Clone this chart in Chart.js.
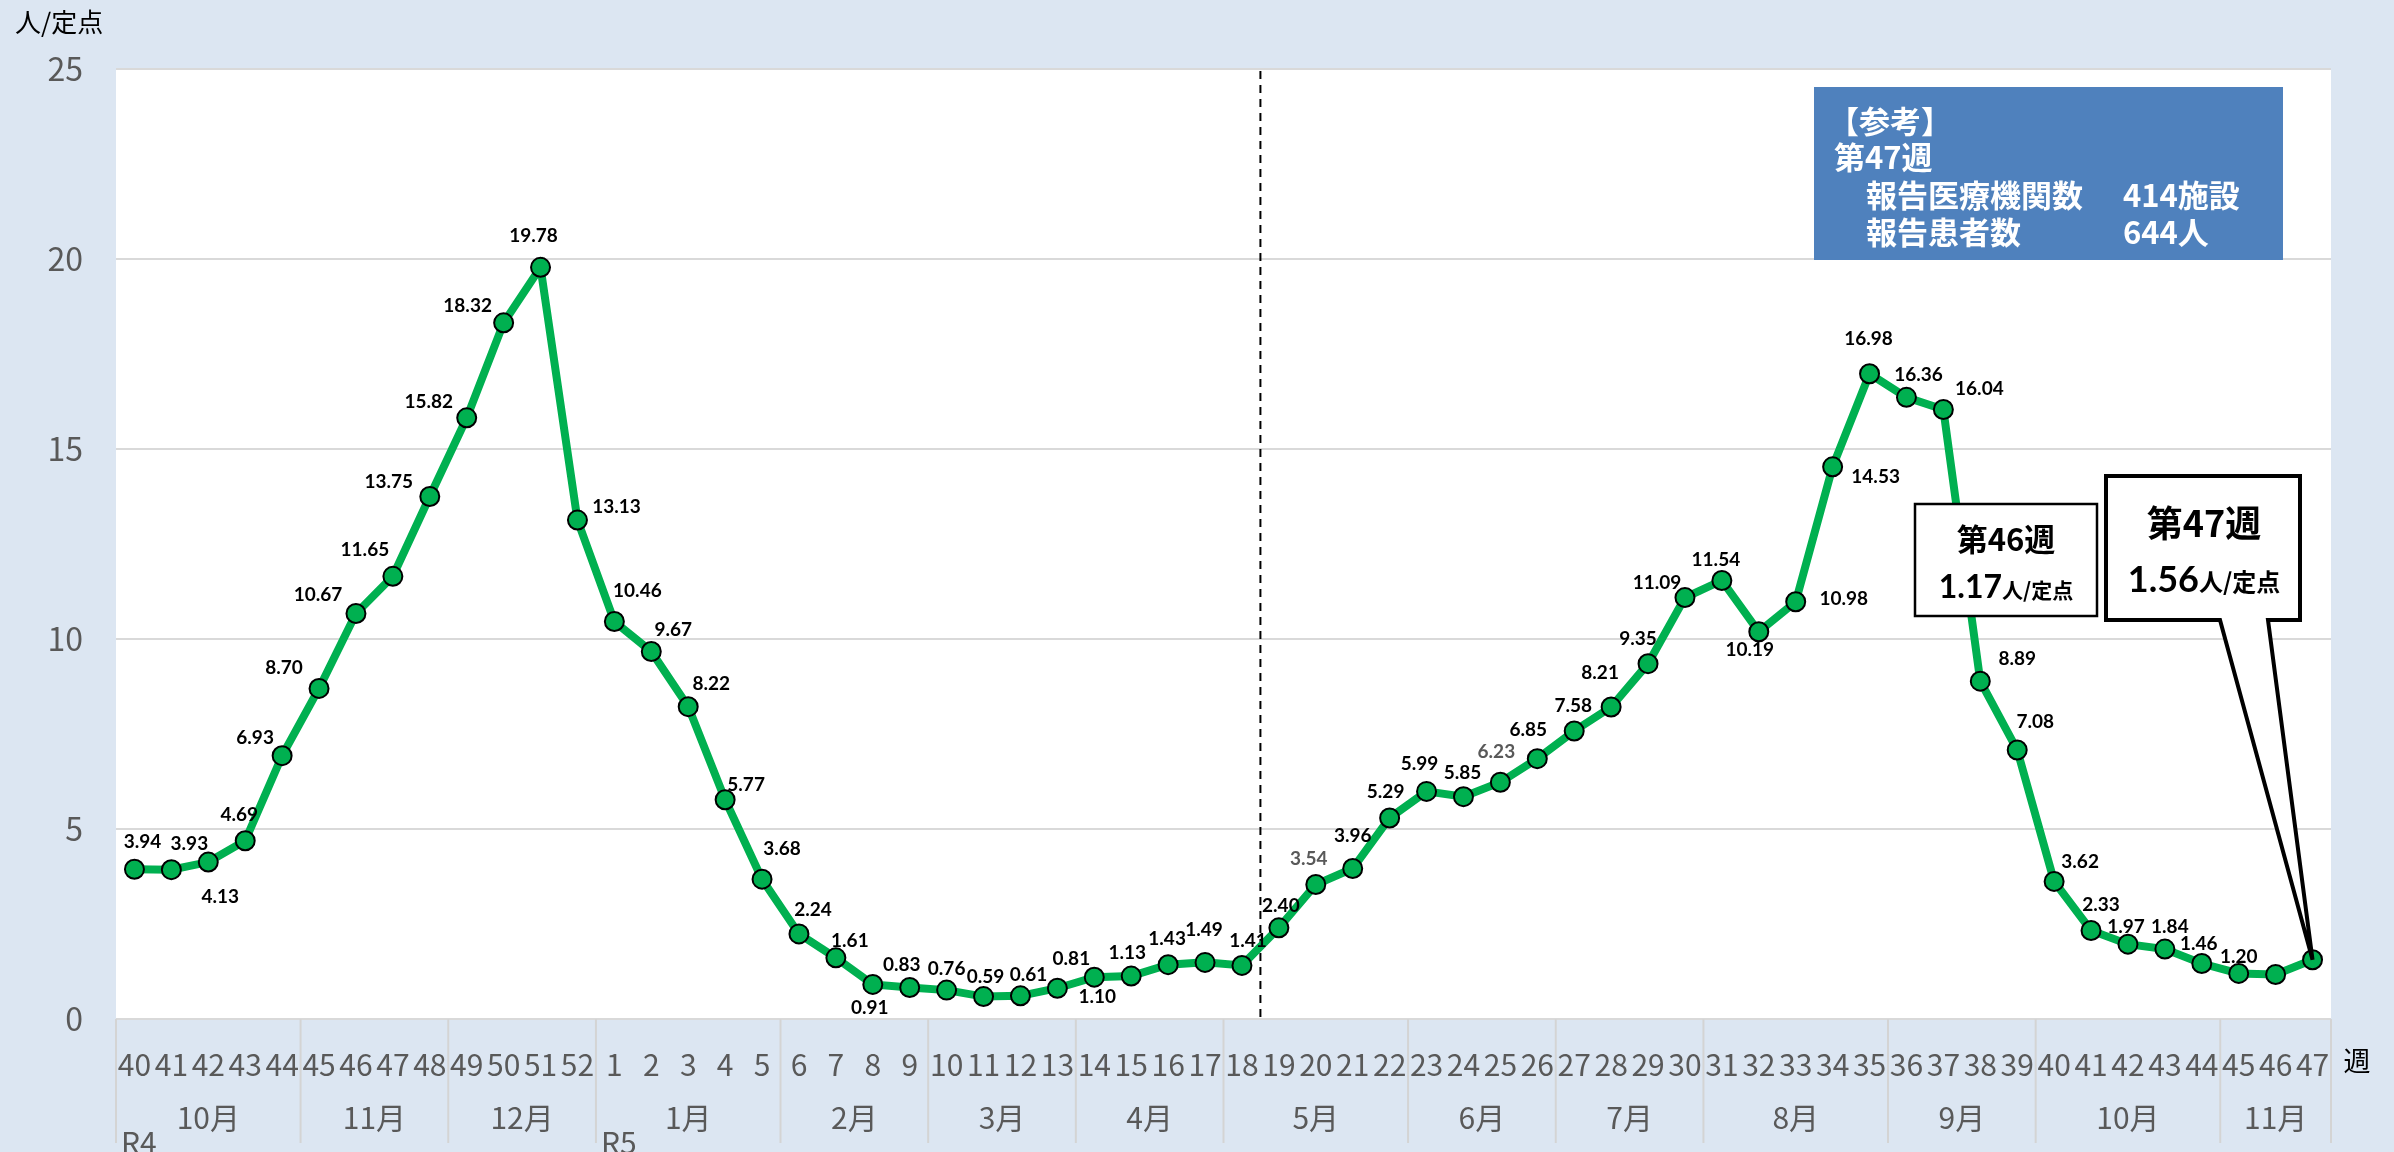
<!DOCTYPE html>
<html lang="ja">
<head>
<meta charset="utf-8">
<title>定点当たり報告数</title>
<script src="https://cdn.jsdelivr.net/npm/chart.js@4.4.1/dist/chart.umd.min.js"></script>
<style>
    html, body { margin: 0; padding: 0; background: #dce6f2; }
    canvas { display: block; }
</style>
</head>
<body>
<canvas id="grafica" width="2394" height="1152"></canvas>
<script>
// 週（R4第40週〜R5第47週）
const semanas = ['40', '41', '42', '43', '44', '45', '46', '47', '48', '49', '50', '51', '52',
    '1', '2', '3', '4', '5', '6', '7', '8', '9', '10', '11', '12', '13', '14', '15', '16', '17', '18',
    '19', '20', '21', '22', '23', '24', '25', '26', '27', '28', '29', '30', '31', '32', '33', '34', '35',
    '36', '37', '38', '39', '40', '41', '42', '43', '44', '45', '46', '47'];

// 定点当たり報告数
const valores = [3.94, 3.93, 4.13, 4.69, 6.93, 8.70, 10.67, 11.65, 13.75, 15.82, 18.32, 19.78, 13.13,
    10.46, 9.67, 8.22, 5.77, 3.68, 2.24, 1.61, 0.91, 0.83, 0.76,
    0.59, 0.61, 0.81, 1.10, 1.13, 1.43, 1.49, 1.41, 2.40, 3.54,
    3.96, 5.29, 5.99, 5.85, 6.23, 6.85, 7.58, 8.21, 9.35, 11.09,
    11.54, 10.19, 10.98, 14.53, 16.98, 16.36, 16.04, 8.89, 7.08, 3.62,
    2.33, 1.97, 1.84, 1.46, 1.20, 1.17, 1.56];

// 月の区切り（各月の週数）
const meses = ['10月', '11月', '12月', '1月', '2月', '3月', '4月', '5月', '6月', '7月', '8月', '9月', '10月', '11月'];
const semanasPorMes = [5, 4, 4, 5, 4, 4, 4, 5, 4, 4, 5, 4, 5, 3];

// 年の表示
const anios = ['R4', 'R5'];
const inicioAnio = [0, 13];

const ticksY = [0, 5, 10, 15, 20, 25];

// 点線は第18週と第19週の間
const semanaCorte = 30;

// ラベルの位置（点からのずれ, px）
const posEtiquetas = [
    [8, -27], [18, -26], [12, 35], [-6, -26], [-27, -18], [-35, -21], [-38, -19], [-28, -26], [-41, -15], [-38, -16],
    [-36, -17], [-7, -31], [39, -13], [23, -31], [22, -22], [23, -23], [21, -15], [20, -30], [14, -24], [14, -17],
    [-3, 23], [-8, -23], [0, -21], [2, -20], [8, -21], [14, -29], [3, 20], [-4, -23], [-1, -26], [-1, -33],
    [6, -25], [2, -22], [-7, -26], [0, -33], [-4, -26], [-7, -28], [-1, -24], [-4, -30], [-9, -29], [-1, -25],
    [-11, -34], [-10, -25], [-28, -15], [-6, -21], [-9, 18], [48, -3], [43, 10], [-1, -35], [12, -22], [36, -21],
    [37, -22], [18, -28], [26, -20], [10, -26], [-2, -17], [5, -22], [-3, -20], [0, -17], null, null
];
const etiquetasGrises = [32, 37];

const fuenteEje = "'Liberation Sans Narrow', 'Noto Sans CJK JP', sans-serif";
const fuenteCJK = "'Noto Sans CJK JP', sans-serif";
const grisTexto = '#595959';

function texto(ctx, str, x, y, font, color, align) {
    ctx.font = font;
    ctx.fillStyle = color;
    ctx.textAlign = align || 'center';
    ctx.textBaseline = 'middle';
    ctx.fillText(str, x, y);
}

// Escribe numero + unidad centrados juntos
function textoMixto(ctx, num, fNum, unidad, fUni, cx, cy) {
    ctx.font = fNum;
    const w1 = ctx.measureText(num).width;
    ctx.font = fUni;
    const w2 = ctx.measureText(unidad).width;
    const x0 = cx - (w1 + w2) / 2;
    texto(ctx, num, x0, cy, fNum, '#000', 'left');
    texto(ctx, unidad, x0 + w1, cy + 2, fUni, '#000', 'left');
}

const fondo = {
    id: 'fondo',
    beforeDraw(chart) {
        const { ctx, chartArea } = chart;
        ctx.save();
        ctx.fillStyle = '#dce6f2';
        ctx.fillRect(0, 0, chart.width, chart.height);
        ctx.fillStyle = '#ffffff';
        ctx.fillRect(chartArea.left, chartArea.top, chartArea.right - chartArea.left, chartArea.bottom - chartArea.top);
        ctx.restore();
    },
    beforeDatasetsDraw(chart) {
        const { ctx, chartArea, scales } = chart;
        const x = (scales.x.getPixelForValue(semanaCorte) + scales.x.getPixelForValue(semanaCorte + 1)) / 2;
        ctx.save();
        ctx.strokeStyle = '#000';
        ctx.lineWidth = 2;
        ctx.setLineDash([8, 6]);
        ctx.beginPath();
        ctx.moveTo(x, chartArea.top + 2);
        ctx.lineTo(x, chartArea.bottom);
        ctx.stroke();
        ctx.restore();
    },
    afterDraw(chart) {
        const { ctx, chartArea, scales } = chart;
        const paso = scales.x.getPixelForValue(1) - scales.x.getPixelForValue(0);
        const base = chartArea.bottom;
        ctx.save();

        // separadores de meses
        ctx.strokeStyle = '#d4d4d4';
        ctx.lineWidth = 2;
        let idx = 0;
        const bordes = [0];
        semanasPorMes.forEach(n => { idx += n; bordes.push(idx); });
        bordes.forEach(b => {
            const x = chartArea.left + b * paso;
            ctx.beginPath();
            ctx.moveTo(x, base);
            ctx.lineTo(x, base + 124);
            ctx.stroke();
        });

        // nombres de meses
        for (let i = 0; i < meses.length; i++) {
            const cx = chartArea.left + (bordes[i] + bordes[i + 1]) / 2 * paso;
            texto(ctx, meses[i], cx, base + 99, '30px ' + fuenteEje, grisTexto);
        }

        // R4 / R5
        anios.forEach((a, i) => {
            texto(ctx, a, chartArea.left + inicioAnio[i] * paso + 5, base + 124, '30px ' + fuenteEje, grisTexto, 'left');
        });

        // unidades
        texto(ctx, '週', chartArea.right + 26, base + 42, '27px ' + fuenteCJK, '#000');
        texto(ctx, '人/定点', 15, 22, '26px ' + fuenteCJK, '#000', 'left');
        ctx.restore();
    },
    afterDatasetsDraw(chart) {
        const { ctx } = chart;
        const puntos = chart.getDatasetMeta(0).data;
        ctx.save();

        // etiquetas de datos
        puntos.forEach((p, i) => {
            const off = posEtiquetas[i];
            if (!off) {
                return;
            }
            const color = etiquetasGrises.includes(i) ? '#595959' : '#000';
            texto(ctx, valores[i].toFixed(2), p.x + off[0], p.y + off[1], 'bold 19px Lato, sans-serif', color);
        });

        // cuadro 参考
        ctx.fillStyle = '#4f81bd';
        ctx.fillRect(1814, 87, 469, 173);
        const fInfo = 'bold 31px ' + fuenteCJK;
        texto(ctx, '【参考】', 1828, 121, fInfo, '#fff', 'left');
        texto(ctx, '第47週', 1834, 157, fInfo, '#fff', 'left');
        texto(ctx, '報告医療機関数', 1866, 195, fInfo, '#fff', 'left');
        texto(ctx, '414施設', 2123, 195, fInfo, '#fff', 'left');
        texto(ctx, '報告患者数', 1866, 232, fInfo, '#fff', 'left');
        texto(ctx, '644人', 2123, 232, fInfo, '#fff', 'left');

        // cuadro 第46週
        ctx.fillStyle = '#fff';
        ctx.strokeStyle = '#000';
        ctx.lineWidth = 2.5;
        ctx.fillRect(1915, 504, 182, 112);
        ctx.strokeRect(1915, 504, 182, 112);
        texto(ctx, '第46週', 2006, 539, 'bold 31px ' + fuenteCJK, '#000');
        textoMixto(ctx, '1.17', 'bold 32px Lato, sans-serif', '人/定点', 'bold 21px ' + fuenteCJK, 2006, 588);

        // cuadro 第47週 con flecha al ultimo punto
        const ult = puntos[puntos.length - 1];
        ctx.fillStyle = '#fff';
        ctx.strokeStyle = '#000';
        ctx.lineWidth = 4;
        ctx.lineJoin = 'miter';
        ctx.beginPath();
        ctx.moveTo(2106, 476);
        ctx.lineTo(2300, 476);
        ctx.lineTo(2300, 620);
        ctx.lineTo(2268, 620);
        ctx.lineTo(ult.x, ult.y);
        ctx.lineTo(2220, 620);
        ctx.lineTo(2106, 620);
        ctx.closePath();
        ctx.fill();
        ctx.stroke();
        texto(ctx, '第47週', 2204, 523, 'bold 36px ' + fuenteCJK, '#000');
        textoMixto(ctx, '1.56', 'bold 36px Lato, sans-serif', '人/定点', 'bold 24px ' + fuenteCJK, 2204, 580);

        ctx.restore();
    }
};

const canvas = document.getElementById('grafica');

new Chart(canvas, {
    type: 'line',
    data: {
        labels: semanas,
        datasets: [
            {
                label: '定点当たり報告数',
                data: valores,
                borderColor: '#00b050',
                borderWidth: 8,
                tension: 0,
                pointRadius: 9.5,
                pointBackgroundColor: '#00b050',
                pointBorderColor: '#000000',
                pointBorderWidth: 2,
            },
        ],
    },
    options: {
        responsive: false,
        animation: false,
        devicePixelRatio: 1,
        layout: {
            padding: { top: 69, right: 63, left: 0, bottom: 0 },
        },
        plugins: {
            legend: { display: false },
            tooltip: { enabled: false },
        },
        scales: {
            x: {
                offset: true,
                grid: { display: false },
                border: { display: false },
                ticks: {
                    autoSkip: false,
                    maxRotation: 0,
                    minRotation: 0,
                    color: grisTexto,
                    padding: 20,
                    font: { family: fuenteEje, size: 30 },
                },
                afterFit(scale) {
                    scale.height = 133;
                },
            },
            y: {
                min: 0,
                max: 25,
                afterBuildTicks(scale) {
                    scale.ticks = ticksY.map(v => ({ value: v }));
                },
                grid: { color: '#d9d9d9', lineWidth: 2, drawTicks: false },
                border: { display: false },
                ticks: {
                    color: grisTexto,
                    padding: 33,
                    font: { family: fuenteEje, size: 32 },
                },
                afterFit(scale) {
                    scale.width = 116;
                },
            },
        },
    },
    plugins: [fondo],
});
</script>
</body>
</html>
